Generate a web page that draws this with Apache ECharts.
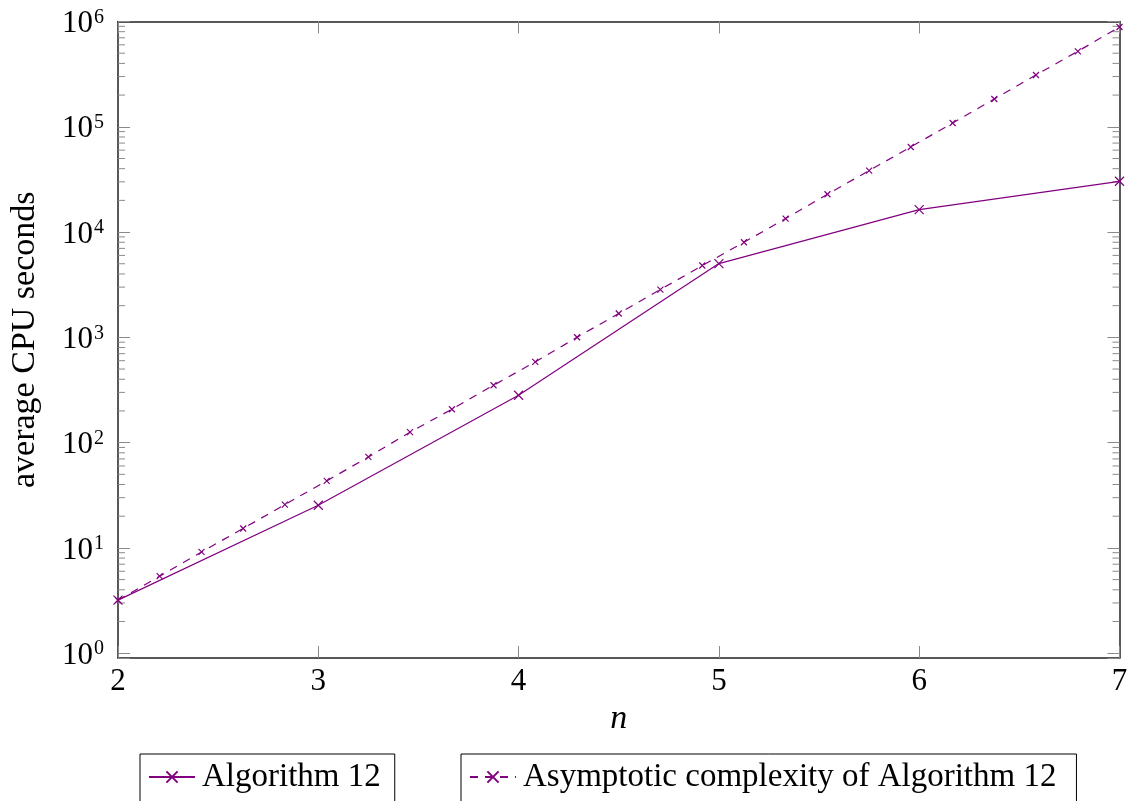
<!DOCTYPE html>
<html>
<head>
<meta charset="utf-8">
<script src="https://cdn.jsdelivr.net/npm/echarts@6/dist/echarts.min.js"></script>
<style>
  html, body { margin: 0; padding: 0; background: #fff; }
  #chart { width: 1133px; height: 801px; }
</style>
</head>
<body>
<div id="chart"></div>
<script>
// Measured run times (average CPU seconds) for n = 2..7
const algN = [2, 3, 4, 5, 6, 7];
const algSeconds = [3.19, 25.4, 282, 5020, 16360, 30360];

// Asymptotic complexity curve, sampled at 25 points between n = 2 and n = 7
const asymN = [2, 2.208, 2.417, 2.625, 2.833, 3.042, 3.25, 3.458, 3.667, 3.875,
  4.083, 4.292, 4.5, 4.708, 4.917, 5.125, 5.333, 5.542, 5.75, 5.958,
  6.167, 6.375, 6.583, 6.792, 7];
const asymSeconds = [3.19, 5.39, 9.16, 15.3, 25.8, 43.3, 73.1, 125.6, 207.6, 351,
  584, 1002, 1683, 2844, 4808, 8000, 13430, 22860, 38370, 64290,
  108700, 183700, 310500, 521000, 887000];

// Axis ranges and tick labels
const xTicks = [2, 3, 4, 5, 6, 7];
const yMin = 0.9, yMax = 1e6;
const yDecades = [0, 1, 2, 3, 4, 5, 6];
const minorMantissas = [2, 3, 4, 5, 6, 7, 8, 9];

const seriesNames = ['Algorithm 12', 'Asymptotic complexity of Algorithm 12'];
const color = '#800080';
const font = 'Liberation Serif';
const crossPath = 'path://M0,0L10,10M10,0L0,10';

// minor tick positions for the log axis: 2..9 × 10^k
const minorTicks = [];
yDecades.slice(0, -1).forEach(function (k) {
  minorMantissas.forEach(function (m) { minorTicks.push([m * Math.pow(10, k)]); });
});

const chart = echarts.init(document.getElementById('chart'), null, { renderer: 'canvas' });

const tickStyle = { color: '#8a8a8a', width: 1 };
const axisLineStyle = { color: '#222', width: 1.5 };

function yLabel(v) {
  const e = Math.log10(v);
  const r = Math.round(e);
  if (Math.abs(e - r) > 0.01 || yDecades.indexOf(r) < 0) return '';
  return '{b|10}{s|' + r + '}';
}

const legendText = { fontFamily: font, fontSize: 33, color: '#000', lineHeight: 34, padding: [0, 0, 0, 2] };

chart.setOption({
  backgroundColor: '#fff',
  animation: false,
  textStyle: { fontFamily: font, color: '#000' },
  grid: { left: 116.5, right: 13.5, top: 21.5, bottom: 143, containLabel: false },
  xAxis: [{
    type: 'value', min: 2, max: 7, interval: 1, position: 'bottom',
    name: 'n', nameLocation: 'middle', nameGap: 42,
    nameTextStyle: { fontFamily: font, fontSize: 34, fontStyle: 'italic', color: '#000' },
    axisLine: { show: true, onZero: false, lineStyle: axisLineStyle },
    axisTick: { show: true, inside: true, length: 12, lineStyle: tickStyle },
    axisLabel: {
      fontFamily: font, fontSize: 31, color: '#000', margin: 8,
      formatter: function (v) { return xTicks.indexOf(v) >= 0 ? String(v) : ''; }
    },
    splitLine: { show: false }
  }, {
    type: 'value', min: 2, max: 7, interval: 1, position: 'top',
    axisLine: { show: true, onZero: false, lineStyle: axisLineStyle },
    axisTick: { show: true, inside: true, length: 12, lineStyle: tickStyle },
    axisLabel: { show: false },
    splitLine: { show: false }
  }],
  yAxis: [{
    type: 'log', logBase: 10, min: yMin, max: yMax, position: 'left',
    name: 'average CPU seconds', nameLocation: 'middle', nameGap: 76, nameRotate: 90,
    nameTextStyle: { fontFamily: font, fontSize: 34, color: '#000' },
    axisLine: { show: true, onZero: false, lineStyle: axisLineStyle },
    axisTick: { show: true, inside: true, length: 12, lineStyle: tickStyle },
    axisLabel: {
      margin: 14, formatter: yLabel,
      rich: {
        b: { fontFamily: font, fontSize: 31, color: '#000', lineHeight: 36, verticalAlign: 'bottom' },
        s: { fontFamily: font, fontSize: 20, color: '#000', verticalAlign: 'top', padding: [4, 0, 0, 1] }
      }
    },
    splitLine: { show: false }
  }, {
    type: 'log', logBase: 10, min: yMin, max: yMax, position: 'right',
    axisLine: { show: true, onZero: false, lineStyle: axisLineStyle },
    axisTick: { show: true, inside: true, length: 12, lineStyle: tickStyle },
    axisLabel: { show: false },
    splitLine: { show: false }
  }],
  legend: [{
    data: [seriesNames[0]], left: 140, top: 754, orient: 'horizontal',
    borderColor: '#000', borderWidth: 1, borderRadius: 0, padding: [6, 14, 16, 8],
    itemWidth: 46, itemHeight: 14, itemGap: 0,
    textStyle: legendText
  }, {
    data: [seriesNames[1]], left: 461, top: 754, orient: 'horizontal',
    borderColor: '#000', borderWidth: 1, borderRadius: 0, padding: [6, 20, 16, 8],
    itemWidth: 46, itemHeight: 14, itemGap: 0,
    textStyle: legendText
  }],
  series: [{
    // minor ticks on the left and right edges of the log axis
    type: 'custom', name: 'minor', silent: true, z: 1,
    xAxisIndex: 0, yAxisIndex: 0, clip: false,
    data: minorTicks,
    encode: { y: 0 },
    renderItem: function (params, api) {
      const v = api.value(0);
      const pl = api.coord([2, v]);
      const pr = api.coord([7, v]);
      return {
        type: 'group',
        children: [
          { type: 'line', shape: { x1: pl[0], y1: pl[1], x2: pl[0] + 7, y2: pl[1] }, style: { stroke: '#8a8a8a', lineWidth: 1 } },
          { type: 'line', shape: { x1: pr[0], y1: pr[1], x2: pr[0] - 7, y2: pr[1] }, style: { stroke: '#8a8a8a', lineWidth: 1 } }
        ]
      };
    }
  }, {
    name: seriesNames[0], type: 'line', z: 3,
    data: algN.map(function (n, i) { return [n, algSeconds[i]]; }),
    color: color,
    lineStyle: { color: color, width: 1.2, type: 'solid' },
    symbol: crossPath, symbolSize: 9, showAllSymbol: true,
    itemStyle: { color: color, borderColor: color, borderWidth: 1.2 },
    clip: false
  }, {
    name: seriesNames[1], type: 'line', z: 3,
    data: asymN.map(function (n, i) { return [n, asymSeconds[i]]; }),
    color: color,
    lineStyle: { color: color, width: 1.2, type: [8, 7] },
    symbol: crossPath, symbolSize: 6, showAllSymbol: true,
    itemStyle: { color: color, borderColor: color, borderWidth: 1.2 },
    clip: false
  }]
});
</script>
</body>
</html>
